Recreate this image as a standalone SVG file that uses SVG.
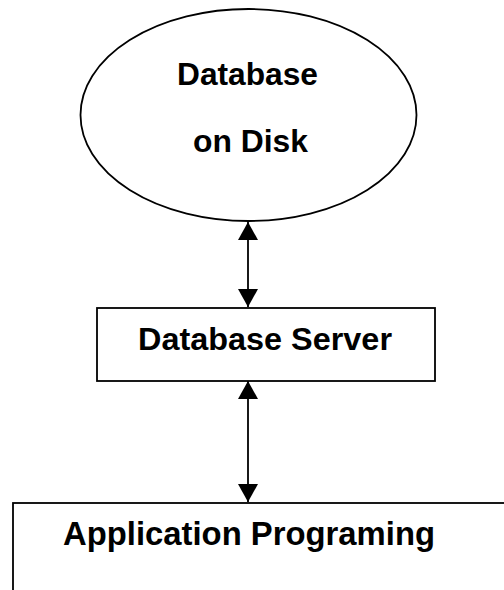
<svg xmlns="http://www.w3.org/2000/svg" width="504" height="590" viewBox="0 0 504 590">
<style>
.shape{fill:#fff;stroke:#000;stroke-width:1.8}
.lbl{font-family:"Liberation Sans",Arial,sans-serif;font-weight:bold;font-size:31px;fill:#000}
.conn{stroke:#000;stroke-width:1.8;fill:none}
</style>
<defs>
<marker id="ah" viewBox="0 0 18 20" refX="18" refY="10" markerWidth="18" markerHeight="20" markerUnits="userSpaceOnUse" orient="auto-start-reverse">
<path d="M0,0 L18,10 L0,20 Z" fill="#000"/>
</marker>
</defs>
<rect width="504" height="590" fill="#fff"/>
<g id="db-disk">
<ellipse class="shape" cx="248.5" cy="115" rx="168" ry="106"/>
<text class="lbl" x="177" y="85" textLength="141" lengthAdjust="spacingAndGlyphs">Database</text>
<text class="lbl" x="193" y="152" textLength="115" lengthAdjust="spacingAndGlyphs">on Disk</text>
</g>
<g id="db-server">
<rect class="shape" x="97" y="308" width="338" height="73"/>
<text class="lbl" x="138" y="350" style="font-size:32px" textLength="254" lengthAdjust="spacingAndGlyphs">Database Server</text>
</g>
<g id="app">
<rect class="shape" x="13" y="503" width="520" height="120"/>
<text class="lbl" x="63" y="545" style="font-size:33px" textLength="372" lengthAdjust="spacingAndGlyphs">Application Programing</text>
</g>
<g id="connectors">
<line class="conn" x1="248" y1="222" x2="248" y2="307" marker-start="url(#ah)" marker-end="url(#ah)"/>
<line class="conn" x1="248" y1="381" x2="248" y2="502" marker-start="url(#ah)" marker-end="url(#ah)"/>
</g>
</svg>
